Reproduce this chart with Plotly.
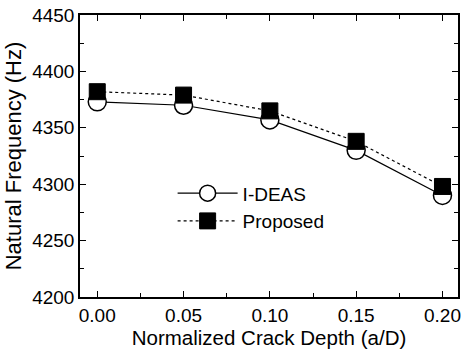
import plotly.graph_objects as go

crack_depth = [0.00, 0.05, 0.10, 0.15, 0.20]
ideas_freq = [4373, 4370, 4357, 4330, 4290]
proposed_freq = [4382, 4379, 4365, 4338, 4298]

FONT = "Liberation Sans, Arial, sans-serif"

fig = go.Figure()
fig.add_trace(go.Scatter(
    x=crack_depth, y=ideas_freq, name="I-DEAS", mode="lines+markers",
    line=dict(color="black", width=1.2, dash="solid"),
    marker=dict(symbol="circle", size=18, color="white", line=dict(color="black", width=1.5)),
))
fig.add_trace(go.Scatter(
    x=crack_depth, y=proposed_freq, name="Proposed", mode="lines+markers",
    line=dict(color="black", width=1.2, dash="3px,3px"),
    marker=dict(symbol="square", size=16, color="black", line=dict(color="black", width=1)),
))

axis_common = dict(
    showgrid=False, zeroline=False, showline=True, linecolor="black", linewidth=1.5,
    mirror="ticks", ticks="inside", ticklen=6, tickwidth=1.2, tickcolor="black",
    tickfont=dict(family=FONT, size=19, color="black"),
)

fig.update_xaxes(
    range=[-0.01, 0.209], tickvals=crack_depth, ticktext=["0.00", "0.05", "0.10", "0.15", "0.20"],
    minor=dict(ticks="inside", ticklen=4, tickwidth=1, tickcolor="black", dtick=0.025, tick0=0.025),
    title=dict(text="Normalized Crack Depth (a/D)", font=dict(family=FONT, size=20.5, color="black"), standoff=6),
    **axis_common,
)
fig.update_yaxes(
    range=[4200, 4450], dtick=50,
    minor=dict(ticks="inside", ticklen=4, tickwidth=1, tickcolor="black", dtick=25),
    title=dict(text="Natural Frequency (Hz)", font=dict(family=FONT, size=22, color="black"), standoff=4),
    **axis_common,
)

fig.update_layout(
    width=464, height=354, margin=dict(l=80, r=3, t=15, b=57),
    paper_bgcolor="white", plot_bgcolor="white", showlegend=True,
    legend=dict(x=0.245, y=0.435, xanchor="left", yanchor="top", bgcolor="rgba(0,0,0,0)",
                font=dict(family=FONT, size=19, color="black"), itemwidth=60, tracegroupgap=0),
)

fig.write_html("out.html")
